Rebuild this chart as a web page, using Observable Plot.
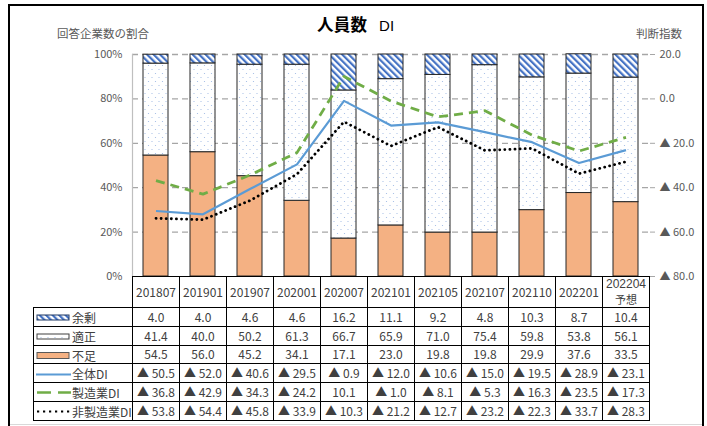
<!DOCTYPE html>
<html>
<head>
<meta charset="utf-8">
<script src="https://cdn.jsdelivr.net/npm/d3@7"></script>
<script src="https://cdn.jsdelivr.net/npm/@observablehq/plot@0.6"></script>
<style>
  html, body { margin: 0; padding: 0; background: #fff; }
  body { font-family: "Noto Sans CJK JP", "Noto Sans", sans-serif; }
  #wrap { position: relative; width: 707px; height: 426px; overflow: hidden; background: #fff; }
  #frame { position: absolute; left: 8px; top: 4px; right: 3px; bottom: -20px;
           border: 2px solid #000; border-bottom: none; }
  #baseline { position: absolute; left: 10px; right: 5px; top: 424px; height: 1px; background: #d9d9d9; }
  .note { position: absolute; font-size: 11.5px; line-height: 14px; color: #595959; white-space: nowrap; }
  #title { position: absolute; left: 317px; top: 14px; line-height: 20px; color: #000; white-space: nowrap; }
  #title .main { font-size: 16.5px; font-weight: 700; letter-spacing: 0.2px; }
  #title .sub { font-size: 15px; font-family: "Liberation Sans", sans-serif; margin-left: 12px; }
  #chart { position: absolute; left: 0; top: 0; }
  #table { position: absolute; left: 33px; top: 276px; border-collapse: collapse; table-layout: fixed;
           font-size: 12px; color: #404040; }
  #table td { border: 1px solid #000; padding: 0; text-align: center; white-space: nowrap; overflow: hidden; }
  #table tr.head td { height: 30px; line-height: 14px; }
  #table tr.head td div.first { height: 15px; line-height: 15px; font-family: "Liberation Sans", sans-serif; }
  #table tr.head td div.second { height: 15px; line-height: 15px; font-size: 11px; }
  #table tr.body td { height: 17.8px; line-height: 14px; }
  #table td.blank { border: none; }
  #table td.label { text-align: left; padding-left: 2px; }
  #table td.label svg { vertical-align: middle; margin-right: 1px; }
  #table td.label span { vertical-align: middle; }
</style>
</head>
<body>
<div id="wrap">
  <svg width="0" height="0" style="position:absolute">
    <defs>
      <pattern id="hatch" patternUnits="userSpaceOnUse" width="4.6" height="4.6" patternTransform="rotate(-45)">
        <rect width="4.6" height="4.6" fill="#fff"></rect>
        <rect x="0" y="0" width="2.2" height="4.6" fill="#4472C4"></rect>
      </pattern>
      <pattern id="dots" patternUnits="userSpaceOnUse" width="7" height="8">
        <rect width="7" height="8" fill="#fff"></rect>
        <circle cx="1.5" cy="1.5" r="0.6" fill="#9DB8E4"></circle>
        <circle cx="5" cy="5.5" r="0.6" fill="#9DB8E4"></circle>
      </pattern>
    </defs>
  </svg>
  <div id="frame"></div>
  <div id="baseline"></div>
  <div id="title"><span class="main">人員数</span><span class="sub">DI</span></div>
  <div class="note" style="left:57px; top:26px;">回答企業数の割合</div>
  <div class="note" style="left:636px; top:26px;">判断指数</div>
  <div id="chart"></div>
  <table id="table"></table>
</div>
<script>
// Survey periods (the last one is a forecast)
const categories = ["201807", "201901", "201907", "202001", "202007", "202101",
                    "202105", "202107", "202110", "202201", "202204予想"];

// Share of responding firms (%)
const surplus  = [4.0, 4.0, 4.6, 4.6, 16.2, 11.1, 9.2, 4.8, 10.3, 8.7, 10.4];      // 余剰
const adequate = [41.4, 40.0, 50.2, 61.3, 66.7, 65.9, 71.0, 75.4, 59.8, 53.8, 56.1]; // 適正
const shortage = [54.5, 56.0, 45.2, 34.1, 17.1, 23.0, 19.8, 19.8, 29.9, 37.6, 33.5]; // 不足

// Diffusion indexes (negative values are shown with ▲)
const diAll       = [-50.5, -52.0, -40.6, -29.5, -0.9, -12.0, -10.6, -15.0, -19.5, -28.9, -23.1];
const diMfg       = [-36.8, -42.9, -34.3, -24.2, 10.1, -1.0, -8.1, -5.3, -16.3, -23.5, -17.3];
const diNonMfg    = [-53.8, -54.4, -45.8, -33.9, -10.3, -21.2, -12.7, -23.2, -22.3, -33.7, -28.3];

const leftTicks  = [0, 20, 40, 60, 80, 100];
const gridTicks  = [20, 40, 60, 80, 100];
const rightTicks = [20, 0, -20, -40, -60, -80];

const fmtDI = v => {
  const r = Math.round(v * 10) / 10;
  return r < 0 ? "▲ " + (-r).toFixed(1) : r.toFixed(1);
};

// Right-hand DI axis mapped onto the left-hand percentage axis
const right = d3.scaleLinear([-80, 20], [0, 100]);

const stackSeries = [
  {key: "不足", values: shortage, fill: "#F4B183"},
  {key: "適正", values: adequate, fill: "url(#dots)"},
  {key: "余剰", values: surplus,  fill: "url(#hatch)"}
];
const barData = stackSeries.flatMap(s =>
  categories.map((c, i) => ({category: c, series: s.key, value: s.values[i]})));

const lineSeries = [
  {key: "全体DI",   values: diAll,    stroke: "#5B9BD5", width: 2.2, dash: null, cap: "butt"},
  {key: "製造業DI", values: diMfg,    stroke: "#70AD47", width: 2.8, dash: "9,6", cap: "butt"},
  {key: "非製造業DI", values: diNonMfg, stroke: "#000000", width: 2.8, dash: "0.1,5", cap: "round"}
];

const lineMarks = lineSeries.map(s =>
  Plot.lineY(categories.map((c, i) => ({category: c, di: s.values[i]})), {
    x: "category",
    y: d => right(d.di),
    stroke: s.stroke,
    strokeWidth: s.width,
    strokeDasharray: s.dash,
    strokeLinecap: s.cap,
    strokeLinejoin: "round"
  }));

const chart = Plot.plot({
  width: 707,
  height: 280,
  marginLeft: 132,
  marginRight: 58,
  marginTop: 54,
  marginBottom: 4,
  style: {fontFamily: '"Noto Sans CJK JP", "Noto Sans", sans-serif', fontSize: "11px",
          color: "#595959", background: "transparent", overflow: "visible"},
  x: {domain: categories, padding: 0, axis: null},
  y: {domain: [0, 100], axis: null},
  color: {domain: stackSeries.map(s => s.key), range: stackSeries.map(s => s.fill)},
  marks: [
    Plot.gridY(gridTicks, {stroke: "#A6A6A6", strokeOpacity: 1, strokeWidth: 1.3, strokeDasharray: "6,4"}),
    Plot.frame({anchor: "left", stroke: "#BFBFBF", strokeWidth: 1.2}),
    Plot.axisY({anchor: "left", label: null, ticks: leftTicks, tickFormat: d => d + "%", tickSize: 0, tickPadding: 10}),
    Plot.axisY({anchor: "right", label: null, ticks: rightTicks.map(v => right(v)),
                tickFormat: v => fmtDI(right.invert(v)), tickSize: 5, tickPadding: 5, stroke: "#A6A6A6"}),
    Plot.barY(barData, Plot.stackY({
      x: "category", y: "value", z: "series", fill: "series",
      order: stackSeries.map(s => s.key),
      stroke: "#262626", strokeWidth: 1, insetLeft: 11, insetRight: 11
    })),
    ...lineMarks
  ]
});
document.getElementById("chart").appendChild(chart);

// Data table below the plot
const swatches = {
  "余剰": '<rect x="1" y="2" width="32" height="5" fill="url(#hatch)" stroke="#1F3864" stroke-width="1"/>',
  "適正": '<rect x="1" y="2" width="32" height="5" fill="url(#dots)" stroke="#404040" stroke-width="1"/>',
  "不足": '<rect x="1" y="1.5" width="32" height="6" fill="#F4B183" stroke="#595959" stroke-width="1"/>',
  "全体DI": '<line x1="0" x2="35" y1="4.5" y2="4.5" stroke="#5B9BD5" stroke-width="2"/>',
  "製造業DI": '<line x1="1" x2="35" y1="4.5" y2="4.5" stroke="#70AD47" stroke-width="2.5" stroke-dasharray="14,7"/>',
  "非製造業DI": '<line x1="1" x2="35" y1="4.5" y2="4.5" stroke="#000" stroke-width="2.2" stroke-dasharray="2.2,3.8"/>'
};
const tableRows = [
  {label: "余剰", values: surplus},
  {label: "適正", values: adequate},
  {label: "不足", values: shortage},
  {label: "全体DI", values: diAll},
  {label: "製造業DI", values: diMfg},
  {label: "非製造業DI", values: diNonMfg}
];

const table = d3.select("#table");
const colgroup = table.append("colgroup");
colgroup.append("col").style("width", "99px");
categories.forEach(() => colgroup.append("col").style("width", "47px"));

const head = table.append("tr").attr("class", "head");
head.append("td").attr("class", "blank");
categories.forEach(c => {
  const m = c.match(/^(\d+)(.*)$/);
  const td = head.append("td");
  if (m[2]) {
    td.append("div").attr("class", "first").text(m[1]);
    td.append("div").attr("class", "second").text(m[2]);
  } else {
    td.text(m[1]);
  }
});

tableRows.forEach(r => {
  const tr = table.append("tr").attr("class", "body");
  tr.append("td").attr("class", "label")
    .html('<svg width="35" height="9">' + swatches[r.label] + '</svg><span>' + r.label + '</span>');
  r.values.forEach(v => tr.append("td").text(fmtDI(v)));
});
</script>
</body>
</html>
